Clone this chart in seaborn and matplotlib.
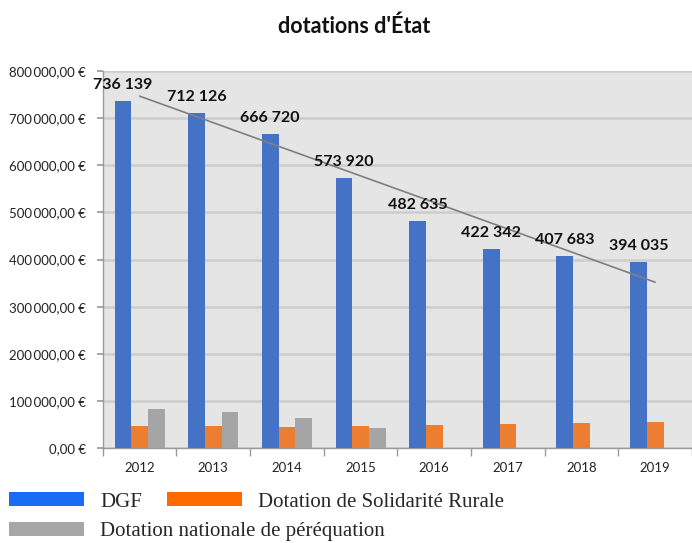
import numpy as np
import pandas as pd
import matplotlib
matplotlib.use("Agg")
import matplotlib.pyplot as plt
import matplotlib.patches as mpatches
import matplotlib.ticker as mticker
import seaborn as sns

years = ["2012", "2013", "2014", "2015", "2016", "2017", "2018", "2019"]
dgf = [736139, 712126, 666720, 573920, 482635, 422342, 407683, 394035]
dsr = [47200, 47200, 43700, 45800, 49300, 50700, 52100, 55600]
dnp = [83800, 76000, 63400, 42300, np.nan, np.nan, np.nan, np.nan]
series = ["DGF", "Dotation de Solidarité Rurale", "Dotation nationale de péréquation"]
bar_colors = ["#4472c4", "#ed7d31", "#a5a5a5"]
legend_colors = ["#1a6cf5", "#ff6a00", "#a6a6a6"]
yticks = [0, 100000, 200000, 300000, 400000, 500000, 600000, 700000, 800000]

df = pd.DataFrame({
    "year": years * 3,
    "serie": [series[0]] * 8 + [series[1]] * 8 + [series[2]] * 8,
    "value": dgf + dsr + dnp,
})

sns.set_theme(style="white")
plt.rcParams["font.family"] = ["Lato", "DejaVu Sans"]

fig = plt.figure(figsize=(6.92, 5.43), dpi=100)
ax = fig.add_axes([0.1485, 0.175, 0.8515, 0.694])
ax.set_facecolor("#e5e5e5")

sns.barplot(data=df, x="year", y="value", hue="serie", palette=bar_colors,
            saturation=1, width=0.68, gap=0, ax=ax, legend=False,
            edgecolor="none", zorder=3)

ax.set_ylim(0, 800000)
ax.set_xlim(-0.5, 7.5)
ax.set_yticks(yticks)


def fmt(v, p):
    if v == 0:
        return "0,00 €"
    s = "{:,.2f}".format(v).replace(",", "\u2009").replace(".", ",")
    return s + " €"


ax.yaxis.set_major_formatter(mticker.FuncFormatter(fmt))
ax.grid(axis="y", color="#cdcdcd", linewidth=1.8, zorder=0)
ax.set_axisbelow(True)
for s in ["top", "right"]:
    ax.spines[s].set_visible(False)
for s in ["left", "bottom"]:
    ax.spines[s].set_color("#9a9a9a")
    ax.spines[s].set_linewidth(1)
ax.set_xlabel("")
ax.set_ylabel("")
ax.tick_params(axis="y", labelsize=9.5, colors="#222222", length=4, color="#9a9a9a",
               pad=8, direction="out", left=True)
ax.tick_params(axis="x", labelsize=9.5, colors="#222222", length=0, pad=10)
ax.set_xticks(range(len(years)))
ax.set_xticks(np.arange(-0.5, 8, 1), minor=True)
ax.tick_params(axis="x", which="minor", length=6, color="#9a9a9a", bottom=True)

# data labels on DGF bars
off = -0.68 / 3
for i, v in enumerate(dgf):
    ax.annotate("{:,}".format(v).replace(",", " "), (i + off, v), xytext=(0, 11.5),
                textcoords="offset points", ha="center", va="center",
                fontsize=11.5, fontweight="bold", color="#111111", zorder=5)

# linear trend of DGF
xs = np.arange(len(years))
coef = np.polyfit(xs, dgf, 1)
ax.plot(xs, np.polyval(coef, xs), color="#7f7f7f", linewidth=1.2, zorder=4)

fig.text(0.512, 0.952, "dotations d'État", ha="center", va="center",
         fontsize=15.5, fontweight="bold", color="#111111")

handles = [mpatches.Patch(facecolor=c, edgecolor="none") for c in legend_colors]
lprop = {"family": "Liberation Serif", "size": 15}
common = dict(loc="center left", frameon=False, prop=lprop, borderpad=0, borderaxespad=0,
              handlelength=3.6, handleheight=0.67, handletextpad=0.77)
fig.legend(handles[:2], series[:2], bbox_to_anchor=(9.3 / 692, 1 - 502 / 543), ncol=2,
           columnspacing=1.2, **common)
fig.legend(handles[2:], series[2:], bbox_to_anchor=(9.3 / 692, 1 - 531.5 / 543), ncol=1,
           **common)

fig.savefig("out.png", dpi=100)
